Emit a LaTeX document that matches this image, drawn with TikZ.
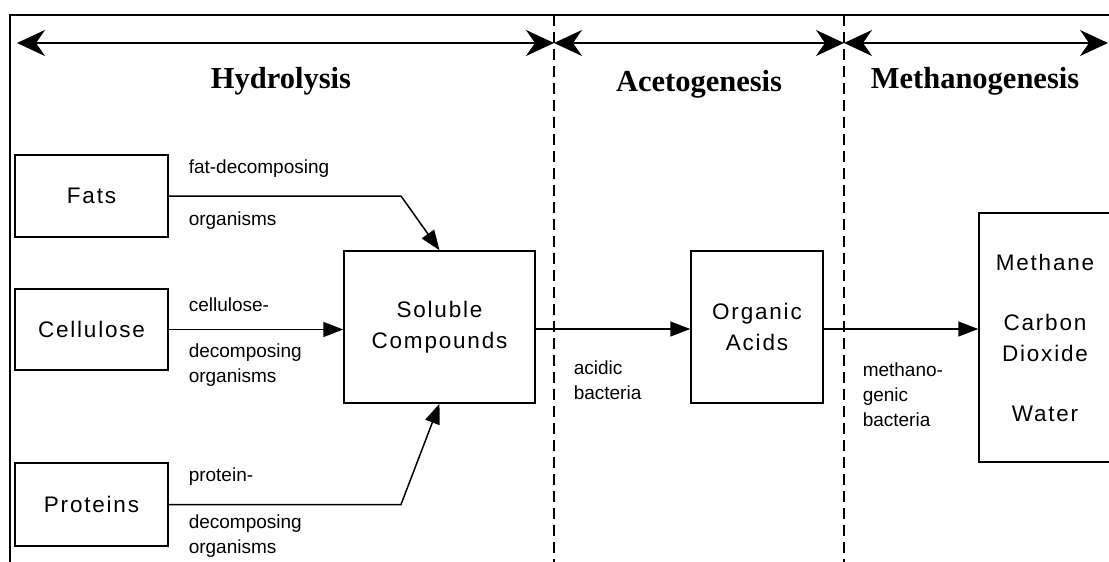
\documentclass[tikz,border=0pt]{standalone}
\usepackage{fontspec}
\setmainfont{Liberation Sans}
\newfontfamily\headfont{Liberation Serif}
\newfontfamily\boxfont[LetterSpace=8]{Liberation Sans}
\usetikzlibrary{arrows.meta}

\begin{document}
\begin{tikzpicture}[x=1pt, y=-1pt, line width=1.5pt,
    stage/.style={font=\headfont\bfseries\fontsize{30.5}{34}\selectfont, anchor=base, inner sep=0pt},
    box/.style={draw, align=center, inner sep=0pt, font=\boxfont\fontsize{22.5}{31}\selectfont},
    note/.style={anchor=west, align=left, inner sep=0pt, font=\fontsize{19}{25}\selectfont},
    flow/.style={-{Triangle[length=20pt,width=15pt]}},
    span/.style={{Stealth[length=28pt,width=26pt,inset=9pt]}-{Stealth[length=28pt,width=26pt,inset=9pt]}},
    border/.style={dash pattern=on 11pt off 6pt, line width=1.2pt}]
    \useasboundingbox (0,0) rectangle (1109,562);
    \clip (0,0) rectangle (1109,562);
    \draw (10,562) -- (10,15) -- (1109,15);
    \draw[border] (554,15) -- (554,562);
    \draw[border] (844,15) -- (844,562);
    % stages
    \coordinate (s0) at (17,43);
    \coordinate (s1) at (554,43);
    \coordinate (s2) at (844,43);
    \coordinate (s3) at (1108,43);
    \draw[span] (s0) -- (s1);
    \draw[span] (s1) -- (s2);
    \draw[span] (s2) -- (s3);
    \node[stage] (hydro) at (281,88) {Hydrolysis};
    \node[stage] (aceto) at (699,91) {Acetogenesis};
    \node[stage] (methano) at (975,88) {Methanogenesis};
    % boxes
    \node[box, minimum width=153pt, minimum height=82pt] (fats) at (91.5,196) {Fats};
    \node[box, minimum width=153pt, minimum height=81pt] (cellulose) at (91.5,329.5) {Cellulose};
    \node[box, minimum width=153pt, minimum height=83pt] (proteins) at (91.5,504.5) {Proteins};
    \node[box, minimum width=191pt, minimum height=152pt] (soluble) at (439.5,327) {Soluble\\Compounds};
    \node[box, minimum width=132pt, minimum height=152pt] (acids) at (757,327) {Organic\\Acids};
    \node[box, minimum width=132pt, minimum height=249pt] (products) at (1045,337.5) {Methane\\[29pt]Carbon\\Dioxide\\[29pt]Water};
    % labels
    \node[note] (fattop) at (188,169) {fat-decomposing};
    \node[note] (fatbot) at (188,221) {organisms};
    \node[note] (celtop) at (188,305) {cellulose-};
    \node[note] (celbot) at (188,365) {decomposing\\organisms};
    \node[note] (protop) at (188,477) {protein-};
    \node[note] (probot) at (188,536) {decomposing\\organisms};
    \node[note] (acidbac) at (573,380) {acidic\\bacteria};
    \node[note] (methbac) at (862,395) {methano-\\genic\\bacteria};
    % connectors
    \coordinate (fatbend) at (401,196);
    \coordinate (probend) at (401,504.5);
    \draw[flow] (fats.east) -- (fatbend) -- (soluble.north);
    \draw[flow] (cellulose.east) -- (cellulose.east -| soluble.west);
    \draw[flow] (proteins.east) -- (probend) -- (soluble.south);
    \draw[flow] (soluble.east |- 0,329) -- (acids.west |- 0,329);
    \draw[flow] (acids.east |- 0,329) -- (products.west |- 0,329);
\end{tikzpicture}
\end{document}
